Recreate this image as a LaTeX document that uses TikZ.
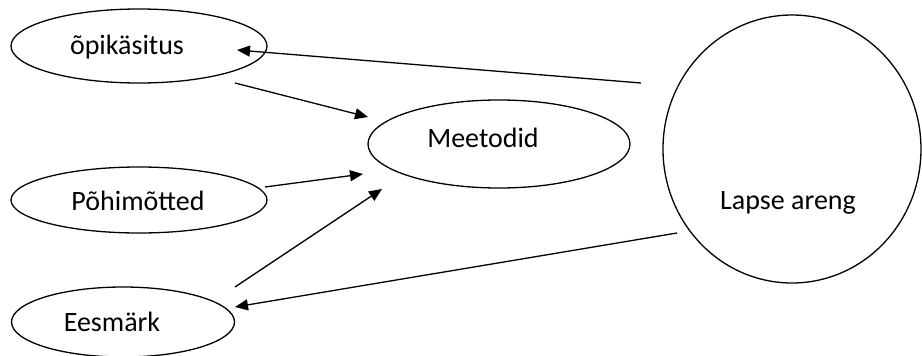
\documentclass[tikz,border=0pt]{standalone}
\usepackage{fontspec}
\setmainfont{Carlito}
\usetikzlibrary{shapes.geometric,arrows.meta}
\begin{document}
\begin{tikzpicture}[x=1pt,y=-1pt,
  ell/.style={ellipse,draw=black,line width=1.3pt,inner sep=0pt},
  lbl/.style={font=\fontsize{28}{32}\selectfont,inner sep=0pt},
  arr/.style={-{Triangle[length=13pt,width=11pt]},line width=1.3pt}]
\useasboundingbox[fill=white] (0,0) rectangle (922,356);
% shapes
\node[ell,minimum width=256pt,minimum height=74pt] (opik) at (139,46) {};
\node[ell,minimum width=256pt,minimum height=66pt] (pohi) at (139,200) {};
\node[ell,minimum width=223pt,minimum height=70pt] (ees) at (123,322) {};
\node[ell,minimum width=262pt,minimum height=88pt] (meet) at (499,144) {};
\node[ell,minimum width=258pt,minimum height=268pt] (lapse) at (792,149) {};
% labels
\node[lbl] (topik) at (127,47) {õpikäsitus};
\node[lbl] (tpohi) at (138,201) {Põhimõtted};
\node[lbl] (tees) at (112,322) {Eesmärk};
\node[lbl] (tmeet) at (483,138) {Meetodid};
\node[lbl] (tlapse) at (788,203) {Lapse areng};
% connector ends
\coordinate (l1) at (641,83);
\coordinate (o1) at (237,50);
\coordinate (o2) at (235,83);
\coordinate (m1) at (368,117);
\coordinate (p1) at (265,187);
\coordinate (m2) at (363,174);
\coordinate (e1) at (235,287);
\coordinate (m3) at (382,189);
\coordinate (l2) at (677,233);
\coordinate (e2) at (235,307);
% connectors
\draw[arr] (l1) -- (o1);
\draw[arr] (o2) -- (m1);
\draw[arr] (p1) -- (m2);
\draw[arr] (e1) -- (m3);
\draw[arr] (l2) -- (e2);
\end{tikzpicture}
\end{document}
